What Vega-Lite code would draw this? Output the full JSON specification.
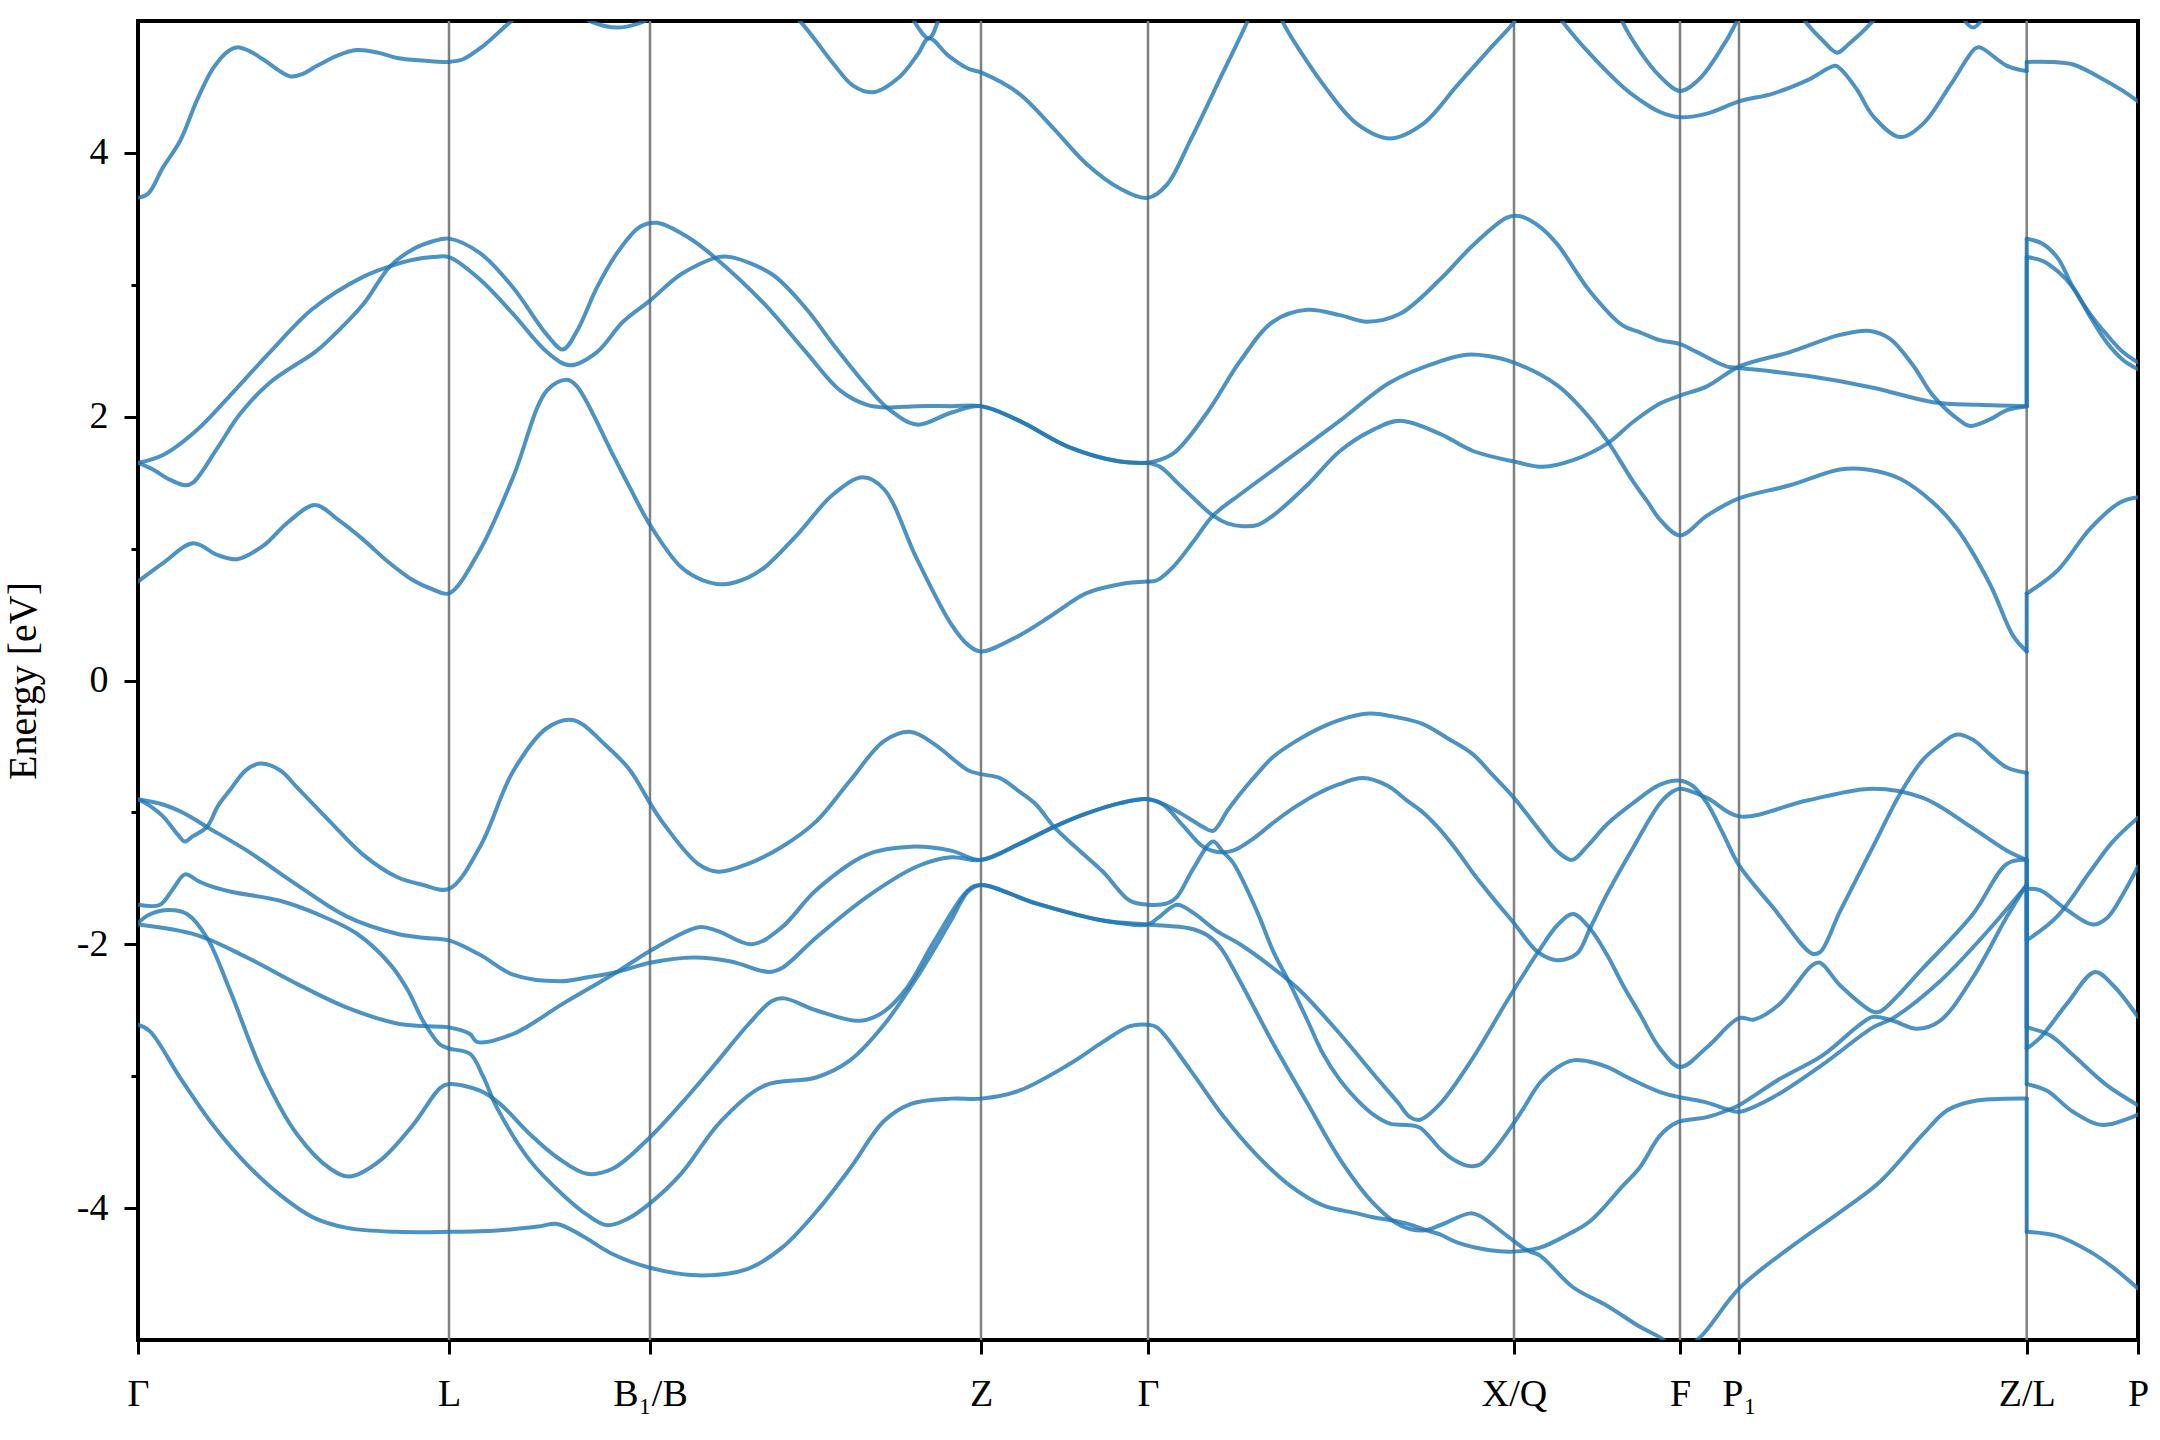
{
"$schema":"https://vega.github.io/schema/vega-lite/v6.json",
"width":2000,"height":1319,
"autosize":{"type":"none"},
"padding":{"left":138,"top":21,"right":22,"bottom":100},
"background":"white",
"config":{"view":{"stroke":"black","strokeWidth":4},"font":"Liberation Serif"},
"datasets":{
"kpts":[{"k":311,"name":"L"},{"k":512,"name":"B1/B"},{"k":843,"name":"Z"},{"k":1010,"name":"Γ"},{"k":1376,"name":"X/Q"},{"k":1542,"name":"F"},{"k":1601,"name":"P1"},{"k":1888.7,"name":"Z/L"}],
"bands":[
{"b":"b1","k":0,"e":0.75},{"b":"b1","k":25,"e":0.89},{"b":"b1","k":55,"e":1.04},{"b":"b1","k":80,"e":0.95},{"b":"b1","k":99,"e":0.92},{"b":"b1","k":125,"e":1.02},{"b":"b1","k":150,"e":1.2},{"b":"b1","k":177,"e":1.33},{"b":"b1","k":200,"e":1.22},{"b":"b1","k":225,"e":1.07},{"b":"b1","k":250,"e":0.9},{"b":"b1","k":275,"e":0.76},{"b":"b1","k":295,"e":0.69},{"b":"b1","k":311,"e":0.66},{"b":"b1","k":342,"e":0.99},{"b":"b1","k":375,"e":1.54},{"b":"b1","k":409,"e":2.2},{"b":"b1","k":429,"e":2.28},{"b":"b1","k":439,"e":2.23},{"b":"b1","k":475,"e":1.71},{"b":"b1","k":492,"e":1.46},{"b":"b1","k":512,"e":1.18},{"b":"b1","k":543,"e":0.86},{"b":"b1","k":565,"e":0.76},{"b":"b1","k":587,"e":0.73},{"b":"b1","k":610,"e":0.78},{"b":"b1","k":627,"e":0.86},{"b":"b1","k":661,"e":1.12},{"b":"b1","k":695,"e":1.41},{"b":"b1","k":725,"e":1.54},{"b":"b1","k":746,"e":1.45},{"b":"b1","k":779,"e":0.92},{"b":"b1","k":813,"e":0.43},{"b":"b1","k":830,"e":0.27},{"b":"b1","k":843,"e":0.22},{"b":"b1","k":881,"e":0.34},{"b":"b1","k":915,"e":0.5},{"b":"b1","k":948,"e":0.66},{"b":"b1","k":982,"e":0.73},{"b":"b1","k":1010,"e":0.75},
{"b":"b2","k":1010,"e":0.75},{"b":"b2","k":1019,"e":0.76},{"b":"b2","k":1035,"e":0.86},{"b":"b2","k":1055,"e":1.05},{"b":"b2","k":1075,"e":1.25},{"b":"b2","k":1102,"e":1.41},{"b":"b2","k":1152,"e":1.69},{"b":"b2","k":1202,"e":1.97},{"b":"b2","k":1252,"e":2.26},{"b":"b2","k":1302,"e":2.42},{"b":"b2","k":1329,"e":2.47},{"b":"b2","k":1350,"e":2.46},{"b":"b2","k":1376,"e":2.41},{"b":"b2","k":1419,"e":2.24},{"b":"b2","k":1445,"e":2.05},{"b":"b2","k":1469,"e":1.82},{"b":"b2","k":1495,"e":1.51},{"b":"b2","k":1510,"e":1.35},{"b":"b2","k":1522,"e":1.22},{"b":"b2","k":1542,"e":1.1},{"b":"b2","k":1569,"e":1.25},{"b":"b2","k":1601,"e":1.38},{"b":"b2","k":1652,"e":1.48},{"b":"b2","k":1702,"e":1.6},{"b":"b2","k":1729,"e":1.6},{"b":"b2","k":1762,"e":1.53},{"b":"b2","k":1795,"e":1.35},{"b":"b2","k":1819,"e":1.15},{"b":"b2","k":1852,"e":0.73},{"b":"b2","k":1875,"e":0.34},{"b":"b2","k":1888.7,"e":0.22},
{"b":"b2J","k":1888.7,"e":0.22},{"b":"b2J","k":1888.7,"e":0.66},
{"b":"b2L","k":1888.7,"e":0.66},{"b":"b2L","k":1919,"e":0.83},{"b":"b2L","k":1952,"e":1.15},{"b":"b2L","k":1982,"e":1.35},{"b":"b2L","k":2000,"e":1.39},
{"b":"b3","k":1010,"e":1.65},{"b":"b3","k":1022,"e":1.62},{"b":"b3","k":1042,"e":1.48},{"b":"b3","k":1060,"e":1.35},{"b":"b3","k":1075,"e":1.25},{"b":"b3","k":1090,"e":1.19},{"b":"b3","k":1105,"e":1.17},{"b":"b3","k":1120,"e":1.18},{"b":"b3","k":1135,"e":1.25},{"b":"b3","k":1169,"e":1.48},{"b":"b3","k":1202,"e":1.74},{"b":"b3","k":1235,"e":1.9},{"b":"b3","k":1262,"e":1.97},{"b":"b3","k":1302,"e":1.87},{"b":"b3","k":1335,"e":1.74},{"b":"b3","k":1376,"e":1.66},{"b":"b3","k":1405,"e":1.62},{"b":"b3","k":1435,"e":1.67},{"b":"b3","k":1470,"e":1.8},{"b":"b3","k":1495,"e":1.96},{"b":"b3","k":1522,"e":2.1},{"b":"b3","k":1542,"e":2.16},{"b":"b3","k":1569,"e":2.23},{"b":"b3","k":1601,"e":2.38},{"b":"b3","k":1652,"e":2.49},{"b":"b3","k":1702,"e":2.62},{"b":"b3","k":1732,"e":2.65},{"b":"b3","k":1752,"e":2.59},{"b":"b3","k":1775,"e":2.39},{"b":"b3","k":1795,"e":2.16},{"b":"b3","k":1822,"e":1.97},{"b":"b3","k":1832,"e":1.93},{"b":"b3","k":1852,"e":1.98},{"b":"b3","k":1869,"e":2.05},{"b":"b3","k":1888.7,"e":2.08},
{"b":"b3J","k":1888.7,"e":2.08},{"b":"b3J","k":1888.7,"e":3.21},
{"b":"b3L","k":1888.7,"e":3.21},{"b":"b3L","k":1905,"e":3.18},{"b":"b3L","k":1920,"e":3.1},{"b":"b3L","k":1935,"e":2.98},{"b":"b3L","k":1952,"e":2.76},{"b":"b3L","k":1969,"e":2.56},{"b":"b3L","k":1985,"e":2.43},{"b":"b3L","k":2000,"e":2.36},
{"b":"b4","k":1010,"e":1.65},{"b":"b4","k":1035,"e":1.72},{"b":"b4","k":1069,"e":2.03},{"b":"b4","k":1102,"e":2.42},{"b":"b4","k":1135,"e":2.72},{"b":"b4","k":1169,"e":2.81},{"b":"b4","k":1202,"e":2.77},{"b":"b4","k":1229,"e":2.72},{"b":"b4","k":1262,"e":2.78},{"b":"b4","k":1302,"e":3.04},{"b":"b4","k":1335,"e":3.3},{"b":"b4","k":1369,"e":3.51},{"b":"b4","k":1382,"e":3.52},{"b":"b4","k":1400,"e":3.45},{"b":"b4","k":1419,"e":3.31},{"b":"b4","k":1452,"e":2.95},{"b":"b4","k":1485,"e":2.69},{"b":"b4","k":1502,"e":2.64},{"b":"b4","k":1522,"e":2.58},{"b":"b4","k":1542,"e":2.55},{"b":"b4","k":1559,"e":2.49},{"b":"b4","k":1589,"e":2.38},{"b":"b4","k":1601,"e":2.37},{"b":"b4","k":1669,"e":2.31},{"b":"b4","k":1735,"e":2.22},{"b":"b4","k":1795,"e":2.11},{"b":"b4","k":1840,"e":2.09},{"b":"b4","k":1888.7,"e":2.08},
{"b":"b4J","k":1888.7,"e":2.08},{"b":"b4J","k":1888.7,"e":3.35},
{"b":"b4L","k":1888.7,"e":3.35},{"b":"b4L","k":1905,"e":3.31},{"b":"b4L","k":1920,"e":3.2},{"b":"b4L","k":1935,"e":2.98},{"b":"b4L","k":1952,"e":2.78},{"b":"b4L","k":1969,"e":2.62},{"b":"b4L","k":1985,"e":2.49},{"b":"b4L","k":2000,"e":2.41},
{"b":"b5","k":0,"e":1.65},{"b":"b5","k":15,"e":1.6},{"b":"b5","k":30,"e":1.53},{"b":"b5","k":47,"e":1.48},{"b":"b5","k":55,"e":1.5},{"b":"b5","k":80,"e":1.77},{"b":"b5","k":102,"e":2.02},{"b":"b5","k":132,"e":2.26},{"b":"b5","k":177,"e":2.49},{"b":"b5","k":192,"e":2.59},{"b":"b5","k":225,"e":2.85},{"b":"b5","k":252,"e":3.14},{"b":"b5","k":275,"e":3.27},{"b":"b5","k":295,"e":3.33},{"b":"b5","k":311,"e":3.35},{"b":"b5","k":342,"e":3.24},{"b":"b5","k":375,"e":2.98},{"b":"b5","k":409,"e":2.62},{"b":"b5","k":425,"e":2.51},{"b":"b5","k":439,"e":2.65},{"b":"b5","k":459,"e":2.98},{"b":"b5","k":479,"e":3.24},{"b":"b5","k":502,"e":3.44},{"b":"b5","k":519,"e":3.47},{"b":"b5","k":550,"e":3.36},{"b":"b5","k":578,"e":3.2},{"b":"b5","k":627,"e":2.85},{"b":"b5","k":668,"e":2.49},{"b":"b5","k":702,"e":2.2},{"b":"b5","k":729,"e":2.09},{"b":"b5","k":749,"e":2.07},{"b":"b5","k":779,"e":2.08},{"b":"b5","k":813,"e":2.08},{"b":"b5","k":843,"e":2.08},{"b":"b5","k":881,"e":1.97},{"b":"b5","k":931,"e":1.77},{"b":"b5","k":982,"e":1.66},{"b":"b5","k":1010,"e":1.65},
{"b":"b6","k":0,"e":1.65},{"b":"b6","k":25,"e":1.71},{"b":"b6","k":59,"e":1.9},{"b":"b6","k":92,"e":2.16},{"b":"b6","k":132,"e":2.49},{"b":"b6","k":175,"e":2.82},{"b":"b6","k":225,"e":3.06},{"b":"b6","k":252,"e":3.14},{"b":"b6","k":275,"e":3.19},{"b":"b6","k":295,"e":3.21},{"b":"b6","k":311,"e":3.21},{"b":"b6","k":342,"e":3.04},{"b":"b6","k":375,"e":2.78},{"b":"b6","k":409,"e":2.49},{"b":"b6","k":432,"e":2.39},{"b":"b6","k":459,"e":2.49},{"b":"b6","k":485,"e":2.72},{"b":"b6","k":512,"e":2.88},{"b":"b6","k":543,"e":3.08},{"b":"b6","k":580,"e":3.21},{"b":"b6","k":593,"e":3.21},{"b":"b6","k":634,"e":3.08},{"b":"b6","k":668,"e":2.82},{"b":"b6","k":695,"e":2.55},{"b":"b6","k":729,"e":2.23},{"b":"b6","k":752,"e":2.05},{"b":"b6","k":779,"e":1.94},{"b":"b6","k":813,"e":2.03},{"b":"b6","k":843,"e":2.08},{"b":"b6","k":881,"e":1.97},{"b":"b6","k":931,"e":1.77},{"b":"b6","k":982,"e":1.66},{"b":"b6","k":1010,"e":1.65},
{"b":"b7","k":0,"e":3.66},{"b":"b7","k":10,"e":3.69},{"b":"b7","k":25,"e":3.89},{"b":"b7","k":42,"e":4.09},{"b":"b7","k":59,"e":4.4},{"b":"b7","k":75,"e":4.64},{"b":"b7","k":90,"e":4.77},{"b":"b7","k":99,"e":4.8},{"b":"b7","k":112,"e":4.77},{"b":"b7","k":125,"e":4.71},{"b":"b7","k":152,"e":4.58},{"b":"b7","k":165,"e":4.6},{"b":"b7","k":179,"e":4.66},{"b":"b7","k":200,"e":4.74},{"b":"b7","k":219,"e":4.78},{"b":"b7","k":240,"e":4.76},{"b":"b7","k":259,"e":4.72},{"b":"b7","k":285,"e":4.7},{"b":"b7","k":311,"e":4.69},{"b":"b7","k":325,"e":4.71},{"b":"b7","k":345,"e":4.81},{"b":"b7","k":372,"e":4.99},{"b":"b7","k":400,"e":5.15},{"b":"b7","k":430,"e":5.1},{"b":"b7","k":455,"e":4.99},{"b":"b7","k":479,"e":4.95},{"b":"b7","k":500,"e":4.98},{"b":"b7","k":520,"e":5.05},{"b":"b7","k":560,"e":5.2},{"b":"b7","k":600,"e":5.25},{"b":"b7","k":640,"e":5.15},{"b":"b7","k":663,"e":4.99},{"b":"b7","k":695,"e":4.68},{"b":"b7","k":715,"e":4.51},{"b":"b7","k":735,"e":4.46},{"b":"b7","k":762,"e":4.58},{"b":"b7","k":780,"e":4.75},{"b":"b7","k":791,"e":4.87},{"b":"b7","k":810,"e":4.74},{"b":"b7","k":830,"e":4.64},{"b":"b7","k":843,"e":4.61},{"b":"b7","k":881,"e":4.45},{"b":"b7","k":915,"e":4.19},{"b":"b7","k":948,"e":3.92},{"b":"b7","k":982,"e":3.73},{"b":"b7","k":1010,"e":3.66},{"b":"b7","k":1029,"e":3.76},{"b":"b7","k":1052,"e":4.09},{"b":"b7","k":1085,"e":4.61},{"b":"b7","k":1109,"e":4.99},{"b":"b7","k":1120,"e":5.2},{"b":"b7","k":1130,"e":5.25},{"b":"b7","k":1140,"e":5.1},{"b":"b7","k":1145,"e":4.99},{"b":"b7","k":1189,"e":4.48},{"b":"b7","k":1219,"e":4.22},{"b":"b7","k":1252,"e":4.11},{"b":"b7","k":1285,"e":4.22},{"b":"b7","k":1319,"e":4.51},{"b":"b7","k":1352,"e":4.79},{"b":"b7","k":1376,"e":4.99},{"b":"b7","k":1390,"e":5.15},{"b":"b7","k":1405,"e":5.2},{"b":"b7","k":1415,"e":5.1},{"b":"b7","k":1424,"e":5.0},{"b":"b7","k":1452,"e":4.75},{"b":"b7","k":1485,"e":4.5},{"b":"b7","k":1502,"e":4.4},{"b":"b7","k":1522,"e":4.31},{"b":"b7","k":1542,"e":4.27},{"b":"b7","k":1570,"e":4.3},{"b":"b7","k":1601,"e":4.39},{"b":"b7","k":1635,"e":4.45},{"b":"b7","k":1669,"e":4.55},{"b":"b7","k":1697,"e":4.66},{"b":"b7","k":1702,"e":4.64},{"b":"b7","k":1719,"e":4.48},{"b":"b7","k":1735,"e":4.28},{"b":"b7","k":1762,"e":4.12},{"b":"b7","k":1785,"e":4.22},{"b":"b7","k":1812,"e":4.51},{"b":"b7","k":1837,"e":4.79},{"b":"b7","k":1842,"e":4.8},{"b":"b7","k":1869,"e":4.66},{"b":"b7","k":1888.7,"e":4.62},
{"b":"b7J","k":1888.7,"e":4.62},{"b":"b7J","k":1888.7,"e":4.69},
{"b":"b7L","k":1888.7,"e":4.69},{"b":"b7L","k":1912,"e":4.69},{"b":"b7L","k":1935,"e":4.67},{"b":"b7L","k":1960,"e":4.58},{"b":"b7L","k":1985,"e":4.47},{"b":"b7L","k":2000,"e":4.39},
{"b":"b8","k":755,"e":5.4},{"b":"b8","k":776,"e":5.0},{"b":"b8","k":791,"e":4.87},{"b":"b8","k":800,"e":5.0},{"b":"b8","k":815,"e":5.4},
{"b":"b9","k":1470,"e":5.3},{"b":"b9","k":1484,"e":5.0},{"b":"b9","k":1502,"e":4.77},{"b":"b9","k":1522,"e":4.58},{"b":"b9","k":1542,"e":4.47},{"b":"b9","k":1560,"e":4.55},{"b":"b9","k":1580,"e":4.75},{"b":"b9","k":1599,"e":5.0},{"b":"b9","k":1610,"e":5.2},
{"b":"b10","k":1655,"e":5.15},{"b":"b10","k":1667,"e":5.0},{"b":"b10","k":1685,"e":4.85},{"b":"b10","k":1699,"e":4.76},{"b":"b10","k":1710,"e":4.82},{"b":"b10","k":1735,"e":5.0},{"b":"b10","k":1750,"e":5.15},
{"b":"b11","k":1815,"e":5.15},{"b":"b11","k":1835,"e":4.95},{"b":"b11","k":1855,"e":5.15},
{"b":"b12","k":0,"e":-0.9},{"b":"b12","k":12,"e":-0.95},{"b":"b12","k":25,"e":-1.03},{"b":"b12","k":40,"e":-1.17},{"b":"b12","k":47,"e":-1.22},{"b":"b12","k":55,"e":-1.18},{"b":"b12","k":69,"e":-1.11},{"b":"b12","k":80,"e":-0.95},{"b":"b12","k":92,"e":-0.83},{"b":"b12","k":108,"e":-0.68},{"b":"b12","k":122,"e":-0.63},{"b":"b12","k":142,"e":-0.68},{"b":"b12","k":159,"e":-0.81},{"b":"b12","k":192,"e":-1.07},{"b":"b12","k":225,"e":-1.32},{"b":"b12","k":259,"e":-1.49},{"b":"b12","k":285,"e":-1.55},{"b":"b12","k":311,"e":-1.58},{"b":"b12","k":342,"e":-1.26},{"b":"b12","k":375,"e":-0.69},{"b":"b12","k":409,"e":-0.36},{"b":"b12","k":435,"e":-0.3},{"b":"b12","k":469,"e":-0.5},{"b":"b12","k":492,"e":-0.68},{"b":"b12","k":512,"e":-0.93},{"b":"b12","k":526,"e":-1.09},{"b":"b12","k":560,"e":-1.39},{"b":"b12","k":580,"e":-1.45},{"b":"b12","k":610,"e":-1.39},{"b":"b12","k":644,"e":-1.26},{"b":"b12","k":678,"e":-1.07},{"b":"b12","k":712,"e":-0.76},{"b":"b12","k":746,"e":-0.46},{"b":"b12","k":773,"e":-0.39},{"b":"b12","k":796,"e":-0.48},{"b":"b12","k":830,"e":-0.68},{"b":"b12","k":843,"e":-0.71},{"b":"b12","k":862,"e":-0.74},{"b":"b12","k":881,"e":-0.84},{"b":"b12","k":898,"e":-0.94},{"b":"b12","k":916,"e":-1.11},{"b":"b12","k":940,"e":-1.28},{"b":"b12","k":965,"e":-1.45},{"b":"b12","k":992,"e":-1.67},{"b":"b12","k":1010,"e":-1.7},{"b":"b12","k":1029,"e":-1.69},{"b":"b12","k":1039,"e":-1.64},{"b":"b12","k":1055,"e":-1.43},{"b":"b12","k":1075,"e":-1.22},{"b":"b12","k":1085,"e":-1.3},{"b":"b12","k":1095,"e":-1.38},{"b":"b12","k":1119,"e":-1.75},{"b":"b12","k":1135,"e":-2.05},{"b":"b12","k":1152,"e":-2.3},{"b":"b12","k":1169,"e":-2.57},{"b":"b12","k":1185,"e":-2.83},{"b":"b12","k":1202,"e":-3.03},{"b":"b12","k":1219,"e":-3.18},{"b":"b12","k":1235,"e":-3.29},{"b":"b12","k":1252,"e":-3.36},{"b":"b12","k":1269,"e":-3.37},{"b":"b12","k":1282,"e":-3.39},{"b":"b12","k":1302,"e":-3.55},{"b":"b12","k":1315,"e":-3.63},{"b":"b12","k":1330,"e":-3.68},{"b":"b12","k":1342,"e":-3.67},{"b":"b12","k":1355,"e":-3.57},{"b":"b12","k":1369,"e":-3.43},{"b":"b12","k":1385,"e":-3.25},{"b":"b12","k":1402,"e":-3.05},{"b":"b12","k":1420,"e":-2.93},{"b":"b12","k":1435,"e":-2.88},{"b":"b12","k":1452,"e":-2.89},{"b":"b12","k":1469,"e":-2.93},{"b":"b12","k":1495,"e":-3.03},{"b":"b12","k":1522,"e":-3.12},{"b":"b12","k":1542,"e":-3.16},{"b":"b12","k":1569,"e":-3.2},{"b":"b12","k":1589,"e":-3.25},{"b":"b12","k":1601,"e":-3.27},{"b":"b12","k":1635,"e":-3.16},{"b":"b12","k":1685,"e":-2.91},{"b":"b12","k":1735,"e":-2.63},{"b":"b12","k":1755,"e":-2.56},{"b":"b12","k":1802,"e":-2.28},{"b":"b12","k":1852,"e":-1.88},{"b":"b12","k":1888.7,"e":-1.55},
{"b":"b12J","k":1888.7,"e":-1.55},{"b":"b12J","k":1888.7,"e":-3.06},
{"b":"b12L","k":1888.7,"e":-3.06},{"b":"b12L","k":1909,"e":-3.11},{"b":"b12L","k":1935,"e":-3.27},{"b":"b12L","k":1965,"e":-3.37},{"b":"b12L","k":2000,"e":-3.29},
{"b":"b13","k":0,"e":-0.9},{"b":"b13","k":25,"e":-0.94},{"b":"b13","k":47,"e":-1.01},{"b":"b13","k":69,"e":-1.11},{"b":"b13","k":109,"e":-1.29},{"b":"b13","k":159,"e":-1.55},{"b":"b13","k":209,"e":-1.79},{"b":"b13","k":259,"e":-1.92},{"b":"b13","k":285,"e":-1.95},{"b":"b13","k":311,"e":-1.97},{"b":"b13","k":342,"e":-2.08},{"b":"b13","k":375,"e":-2.23},{"b":"b13","k":422,"e":-2.28},{"b":"b13","k":450,"e":-2.25},{"b":"b13","k":479,"e":-2.21},{"b":"b13","k":512,"e":-2.14},{"b":"b13","k":556,"e":-2.1},{"b":"b13","k":593,"e":-2.13},{"b":"b13","k":631,"e":-2.21},{"b":"b13","k":644,"e":-2.18},{"b":"b13","k":678,"e":-1.95},{"b":"b13","k":729,"e":-1.64},{"b":"b13","k":779,"e":-1.41},{"b":"b13","k":813,"e":-1.34},{"b":"b13","k":843,"e":-1.36},{"b":"b13","k":881,"e":-1.24},{"b":"b13","k":916,"e":-1.11},{"b":"b13","k":948,"e":-1.01},{"b":"b13","k":982,"e":-0.93},{"b":"b13","k":1010,"e":-0.9},{"b":"b13","k":1029,"e":-0.95},{"b":"b13","k":1050,"e":-1.04},{"b":"b13","k":1065,"e":-1.11},{"b":"b13","k":1075,"e":-1.14},{"b":"b13","k":1090,"e":-0.98},{"b":"b13","k":1102,"e":-0.86},{"b":"b13","k":1120,"e":-0.7},{"b":"b13","k":1135,"e":-0.58},{"b":"b13","k":1160,"e":-0.45},{"b":"b13","k":1185,"e":-0.35},{"b":"b13","k":1210,"e":-0.28},{"b":"b13","k":1232,"e":-0.25},{"b":"b13","k":1260,"e":-0.28},{"b":"b13","k":1285,"e":-0.33},{"b":"b13","k":1310,"e":-0.44},{"b":"b13","k":1335,"e":-0.56},{"b":"b13","k":1355,"e":-0.72},{"b":"b13","k":1376,"e":-0.89},{"b":"b13","k":1402,"e":-1.14},{"b":"b13","k":1420,"e":-1.3},{"b":"b13","k":1434,"e":-1.36},{"b":"b13","k":1450,"e":-1.25},{"b":"b13","k":1469,"e":-1.09},{"b":"b13","k":1495,"e":-0.93},{"b":"b13","k":1522,"e":-0.79},{"b":"b13","k":1542,"e":-0.76},{"b":"b13","k":1555,"e":-0.8},{"b":"b13","k":1569,"e":-0.93},{"b":"b13","k":1585,"e":-1.16},{"b":"b13","k":1601,"e":-1.4},{"b":"b13","k":1635,"e":-1.72},{"b":"b13","k":1674,"e":-2.07},{"b":"b13","k":1682,"e":-2.06},{"b":"b13","k":1702,"e":-1.75},{"b":"b13","k":1735,"e":-1.26},{"b":"b13","k":1762,"e":-0.86},{"b":"b13","k":1785,"e":-0.6},{"b":"b13","k":1800,"e":-0.5},{"b":"b13","k":1819,"e":-0.41},{"b":"b13","k":1835,"e":-0.45},{"b":"b13","k":1852,"e":-0.56},{"b":"b13","k":1869,"e":-0.66},{"b":"b13","k":1888.7,"e":-0.7},
{"b":"b13J","k":1888.7,"e":-0.7},{"b":"b13J","k":1888.7,"e":-1.58},
{"b":"b13L","k":1888.7,"e":-1.58},{"b":"b13L","k":1902,"e":-1.59},{"b":"b13L","k":1929,"e":-1.74},{"b":"b13L","k":1955,"e":-1.85},{"b":"b13L","k":1969,"e":-1.8},{"b":"b13L","k":1985,"e":-1.62},{"b":"b13L","k":2000,"e":-1.41},
{"b":"b14","k":0,"e":-1.85},{"b":"b14","k":59,"e":-1.93},{"b":"b14","k":109,"e":-2.1},{"b":"b14","k":159,"e":-2.3},{"b":"b14","k":209,"e":-2.48},{"b":"b14","k":259,"e":-2.6},{"b":"b14","k":285,"e":-2.62},{"b":"b14","k":311,"e":-2.63},{"b":"b14","k":332,"e":-2.68},{"b":"b14","k":339,"e":-2.74},{"b":"b14","k":375,"e":-2.68},{"b":"b14","k":425,"e":-2.45},{"b":"b14","k":479,"e":-2.21},{"b":"b14","k":512,"e":-2.05},{"b":"b14","k":561,"e":-1.87},{"b":"b14","k":580,"e":-1.9},{"b":"b14","k":614,"e":-2.0},{"b":"b14","k":644,"e":-1.87},{"b":"b14","k":678,"e":-1.59},{"b":"b14","k":729,"e":-1.32},{"b":"b14","k":773,"e":-1.26},{"b":"b14","k":813,"e":-1.29},{"b":"b14","k":843,"e":-1.36},{"b":"b14","k":881,"e":-1.24},{"b":"b14","k":916,"e":-1.11},{"b":"b14","k":948,"e":-1.01},{"b":"b14","k":982,"e":-0.93},{"b":"b14","k":1010,"e":-0.9},{"b":"b14","k":1025,"e":-0.94},{"b":"b14","k":1045,"e":-1.1},{"b":"b14","k":1065,"e":-1.26},{"b":"b14","k":1079,"e":-1.3},{"b":"b14","k":1095,"e":-1.29},{"b":"b14","k":1115,"e":-1.2},{"b":"b14","k":1135,"e":-1.08},{"b":"b14","k":1155,"e":-0.97},{"b":"b14","k":1179,"e":-0.86},{"b":"b14","k":1200,"e":-0.79},{"b":"b14","k":1225,"e":-0.74},{"b":"b14","k":1250,"e":-0.8},{"b":"b14","k":1269,"e":-0.91},{"b":"b14","k":1285,"e":-1.0},{"b":"b14","k":1302,"e":-1.13},{"b":"b14","k":1320,"e":-1.3},{"b":"b14","k":1335,"e":-1.46},{"b":"b14","k":1355,"e":-1.65},{"b":"b14","k":1376,"e":-1.84},{"b":"b14","k":1400,"e":-2.06},{"b":"b14","k":1419,"e":-2.12},{"b":"b14","k":1439,"e":-2.07},{"b":"b14","k":1452,"e":-1.88},{"b":"b14","k":1469,"e":-1.62},{"b":"b14","k":1495,"e":-1.27},{"b":"b14","k":1522,"e":-0.93},{"b":"b14","k":1535,"e":-0.84},{"b":"b14","k":1542,"e":-0.82},{"b":"b14","k":1569,"e":-0.89},{"b":"b14","k":1601,"e":-1.03},{"b":"b14","k":1669,"e":-0.91},{"b":"b14","k":1735,"e":-0.82},{"b":"b14","k":1785,"e":-0.89},{"b":"b14","k":1835,"e":-1.12},{"b":"b14","k":1869,"e":-1.29},{"b":"b14","k":1888.7,"e":-1.36},
{"b":"b14J","k":1888.7,"e":-1.36},{"b":"b14J","k":1888.7,"e":-1.97},
{"b":"b14L","k":1888.7,"e":-1.97},{"b":"b14L","k":1919,"e":-1.79},{"b":"b14L","k":1952,"e":-1.45},{"b":"b14L","k":1975,"e":-1.22},{"b":"b14L","k":2000,"e":-1.04},
{"b":"b15","k":0,"e":-1.7},{"b":"b15","k":22,"e":-1.7},{"b":"b15","k":35,"e":-1.58},{"b":"b15","k":47,"e":-1.47},{"b":"b15","k":60,"e":-1.52},{"b":"b15","k":69,"e":-1.55},{"b":"b15","k":92,"e":-1.6},{"b":"b15","k":142,"e":-1.67},{"b":"b15","k":179,"e":-1.77},{"b":"b15","k":219,"e":-1.92},{"b":"b15","k":252,"e":-2.15},{"b":"b15","k":270,"e":-2.35},{"b":"b15","k":285,"e":-2.58},{"b":"b15","k":302,"e":-2.76},{"b":"b15","k":311,"e":-2.79},{"b":"b15","k":332,"e":-2.83},{"b":"b15","k":345,"e":-3.0},{"b":"b15","k":359,"e":-3.24},{"b":"b15","k":392,"e":-3.64},{"b":"b15","k":425,"e":-3.9},{"b":"b15","k":449,"e":-4.05},{"b":"b15","k":469,"e":-4.13},{"b":"b15","k":490,"e":-4.08},{"b":"b15","k":511,"e":-3.97},{"b":"b15","k":543,"e":-3.74},{"b":"b15","k":583,"e":-3.34},{"b":"b15","k":627,"e":-3.07},{"b":"b15","k":678,"e":-3.01},{"b":"b15","k":712,"e":-2.88},{"b":"b15","k":746,"e":-2.61},{"b":"b15","k":779,"e":-2.25},{"b":"b15","k":813,"e":-1.82},{"b":"b15","k":830,"e":-1.6},{"b":"b15","k":843,"e":-1.55},{"b":"b15","k":898,"e":-1.69},{"b":"b15","k":965,"e":-1.82},{"b":"b15","k":1010,"e":-1.85},{"b":"b15","k":1020,"e":-1.8},{"b":"b15","k":1039,"e":-1.7},{"b":"b15","k":1055,"e":-1.76},{"b":"b15","k":1079,"e":-1.9},{"b":"b15","k":1102,"e":-2.0},{"b":"b15","k":1135,"e":-2.18},{"b":"b15","k":1162,"e":-2.35},{"b":"b15","k":1202,"e":-2.68},{"b":"b15","k":1235,"e":-2.98},{"b":"b15","k":1260,"e":-3.2},{"b":"b15","k":1272,"e":-3.31},{"b":"b15","k":1282,"e":-3.33},{"b":"b15","k":1302,"e":-3.21},{"b":"b15","k":1335,"e":-2.86},{"b":"b15","k":1369,"e":-2.43},{"b":"b15","k":1400,"e":-2.06},{"b":"b15","k":1420,"e":-1.85},{"b":"b15","k":1435,"e":-1.77},{"b":"b15","k":1452,"e":-1.88},{"b":"b15","k":1469,"e":-2.08},{"b":"b15","k":1485,"e":-2.31},{"b":"b15","k":1502,"e":-2.53},{"b":"b15","k":1522,"e":-2.79},{"b":"b15","k":1542,"e":-2.93},{"b":"b15","k":1569,"e":-2.78},{"b":"b15","k":1601,"e":-2.56},{"b":"b15","k":1616,"e":-2.57},{"b":"b15","k":1642,"e":-2.45},{"b":"b15","k":1674,"e":-2.16},{"b":"b15","k":1682,"e":-2.14},{"b":"b15","k":1702,"e":-2.31},{"b":"b15","k":1735,"e":-2.51},{"b":"b15","k":1742,"e":-2.51},{"b":"b15","k":1785,"e":-2.18},{"b":"b15","k":1835,"e":-1.77},{"b":"b15","k":1869,"e":-1.39},{"b":"b15","k":1888.7,"e":-1.36},
{"b":"b15J","k":1888.7,"e":-1.36},{"b":"b15J","k":1888.7,"e":-2.63},
{"b":"b15L","k":1888.7,"e":-2.63},{"b":"b15L","k":1912,"e":-2.69},{"b":"b15L","k":1935,"e":-2.84},{"b":"b15L","k":1969,"e":-3.07},{"b":"b15L","k":2000,"e":-3.22},
{"b":"b16","k":0,"e":-1.84},{"b":"b16","k":10,"e":-1.78},{"b":"b16","k":29,"e":-1.74},{"b":"b16","k":49,"e":-1.77},{"b":"b16","k":69,"e":-1.95},{"b":"b16","k":92,"e":-2.35},{"b":"b16","k":125,"e":-2.98},{"b":"b16","k":159,"e":-3.44},{"b":"b16","k":192,"e":-3.7},{"b":"b16","k":212,"e":-3.76},{"b":"b16","k":242,"e":-3.64},{"b":"b16","k":275,"e":-3.37},{"b":"b16","k":302,"e":-3.09},{"b":"b16","k":311,"e":-3.06},{"b":"b16","k":342,"e":-3.11},{"b":"b16","k":362,"e":-3.21},{"b":"b16","k":392,"e":-3.44},{"b":"b16","k":420,"e":-3.62},{"b":"b16","k":449,"e":-3.74},{"b":"b16","k":475,"e":-3.7},{"b":"b16","k":511,"e":-3.47},{"b":"b16","k":543,"e":-3.21},{"b":"b16","k":577,"e":-2.91},{"b":"b16","k":610,"e":-2.61},{"b":"b16","k":634,"e":-2.43},{"b":"b16","k":646,"e":-2.41},{"b":"b16","k":678,"e":-2.5},{"b":"b16","k":722,"e":-2.58},{"b":"b16","k":746,"e":-2.51},{"b":"b16","k":769,"e":-2.33},{"b":"b16","k":796,"e":-1.98},{"b":"b16","k":830,"e":-1.59},{"b":"b16","k":843,"e":-1.55},{"b":"b16","k":898,"e":-1.69},{"b":"b16","k":965,"e":-1.82},{"b":"b16","k":1010,"e":-1.85},{"b":"b16","k":1052,"e":-1.88},{"b":"b16","k":1069,"e":-1.93},{"b":"b16","k":1082,"e":-2.02},{"b":"b16","k":1102,"e":-2.28},{"b":"b16","k":1135,"e":-2.75},{"b":"b16","k":1169,"e":-3.2},{"b":"b16","k":1202,"e":-3.63},{"b":"b16","k":1235,"e":-3.96},{"b":"b16","k":1262,"e":-4.13},{"b":"b16","k":1285,"e":-4.17},{"b":"b16","k":1302,"e":-4.13},{"b":"b16","k":1332,"e":-4.04},{"b":"b16","k":1342,"e":-4.06},{"b":"b16","k":1369,"e":-4.21},{"b":"b16","k":1389,"e":-4.32},{"b":"b16","k":1402,"e":-4.36},{"b":"b16","k":1435,"e":-4.6},{"b":"b16","k":1469,"e":-4.74},{"b":"b16","k":1502,"e":-4.9},{"b":"b16","k":1522,"e":-4.98},{"b":"b16","k":1542,"e":-5.08},{"b":"b16","k":1562,"e":-4.98},{"b":"b16","k":1601,"e":-4.61},{"b":"b16","k":1652,"e":-4.3},{"b":"b16","k":1702,"e":-4.03},{"b":"b16","k":1742,"e":-3.8},{"b":"b16","k":1785,"e":-3.44},{"b":"b16","k":1809,"e":-3.26},{"b":"b16","k":1835,"e":-3.19},{"b":"b16","k":1888.7,"e":-3.17},
{"b":"b16J","k":1888.7,"e":-3.17},{"b":"b16J","k":1888.7,"e":-4.18},
{"b":"b16L","k":1888.7,"e":-4.18},{"b":"b16L","k":1919,"e":-4.21},{"b":"b16L","k":1952,"e":-4.33},{"b":"b16L","k":1975,"e":-4.45},{"b":"b16L","k":2000,"e":-4.61},
{"b":"b17","k":0,"e":-2.61},{"b":"b17","k":12,"e":-2.66},{"b":"b17","k":42,"e":-3.01},{"b":"b17","k":75,"e":-3.37},{"b":"b17","k":109,"e":-3.67},{"b":"b17","k":142,"e":-3.9},{"b":"b17","k":175,"e":-4.07},{"b":"b17","k":209,"e":-4.15},{"b":"b17","k":259,"e":-4.18},{"b":"b17","k":311,"e":-4.18},{"b":"b17","k":359,"e":-4.17},{"b":"b17","k":400,"e":-4.14},{"b":"b17","k":419,"e":-4.12},{"b":"b17","k":442,"e":-4.2},{"b":"b17","k":475,"e":-4.35},{"b":"b17","k":511,"e":-4.45},{"b":"b17","k":560,"e":-4.51},{"b":"b17","k":610,"e":-4.46},{"b":"b17","k":644,"e":-4.3},{"b":"b17","k":678,"e":-4.03},{"b":"b17","k":712,"e":-3.7},{"b":"b17","k":746,"e":-3.34},{"b":"b17","k":773,"e":-3.21},{"b":"b17","k":813,"e":-3.17},{"b":"b17","k":843,"e":-3.17},{"b":"b17","k":881,"e":-3.11},{"b":"b17","k":931,"e":-2.91},{"b":"b17","k":965,"e":-2.74},{"b":"b17","k":992,"e":-2.62},{"b":"b17","k":1010,"e":-2.61},{"b":"b17","k":1019,"e":-2.63},{"b":"b17","k":1052,"e":-2.95},{"b":"b17","k":1085,"e":-3.3},{"b":"b17","k":1119,"e":-3.6},{"b":"b17","k":1152,"e":-3.83},{"b":"b17","k":1185,"e":-3.98},{"b":"b17","k":1219,"e":-4.04},{"b":"b17","k":1235,"e":-4.07},{"b":"b17","k":1252,"e":-4.09},{"b":"b17","k":1270,"e":-4.12},{"b":"b17","k":1285,"e":-4.16},{"b":"b17","k":1302,"e":-4.2},{"b":"b17","k":1319,"e":-4.26},{"b":"b17","k":1352,"e":-4.32},{"b":"b17","k":1376,"e":-4.33},{"b":"b17","k":1402,"e":-4.3},{"b":"b17","k":1430,"e":-4.2},{"b":"b17","k":1452,"e":-4.1},{"b":"b17","k":1485,"e":-3.83},{"b":"b17","k":1502,"e":-3.69},{"b":"b17","k":1522,"e":-3.45},{"b":"b17","k":1539,"e":-3.35},{"b":"b17","k":1569,"e":-3.31},{"b":"b17","k":1589,"e":-3.26},{"b":"b17","k":1601,"e":-3.22},{"b":"b17","k":1642,"e":-3.02},{"b":"b17","k":1685,"e":-2.84},{"b":"b17","k":1720,"e":-2.62},{"b":"b17","k":1735,"e":-2.55},{"b":"b17","k":1755,"e":-2.58},{"b":"b17","k":1779,"e":-2.64},{"b":"b17","k":1802,"e":-2.58},{"b":"b17","k":1835,"e":-2.25},{"b":"b17","k":1869,"e":-1.79},{"b":"b17","k":1888.7,"e":-1.55},
{"b":"b17J","k":1888.7,"e":-1.55},{"b":"b17J","k":1888.7,"e":-2.79},
{"b":"b17L","k":1888.7,"e":-2.79},{"b":"b17L","k":1902,"e":-2.71},{"b":"b17L","k":1929,"e":-2.45},{"b":"b17L","k":1957,"e":-2.21},{"b":"b17L","k":1975,"e":-2.31},{"b":"b17L","k":2000,"e":-2.55}
]},
"layer":[
{"data":{"name":"kpts"},
 "mark":{"type":"rule","color":"#808080","strokeWidth":2.5},
 "encoding":{"x":{"field":"k","type":"quantitative","scale":{"domain":[0,2000],"nice":false,"zero":false},
   "axis":{"values":[0,311,512,843,1010,1376,1542,1601,1888.7,2000],
    "labelExpr":"datum.value < 100 ? 'Γ' : datum.value < 400 ? 'L' : datum.value < 600 ? 'B₁/B' : datum.value < 900 ? 'Z' : datum.value < 1100 ? 'Γ' : datum.value < 1450 ? 'X/Q' : datum.value < 1570 ? 'F' : datum.value < 1700 ? 'P₁' : datum.value < 1950 ? 'Z/L' : 'P'",
    "title":null,"grid":false,"domain":false,"tickColor":"black","tickWidth":3,"tickSize":14,
    "labelFont":"Liberation Serif","labelFontSize":38,"labelColor":"black","labelPadding":21,"labelOverlap":false,"labelFlush":false,"labelBound":false}}}},
{"data":{"name":"bands"},
 "mark":{"type":"line","color":"#1f77b4","strokeWidth":4,"opacity":0.8,"clip":true,"interpolate":"catmull-rom","strokeJoin":"round","strokeCap":"round"},
 "encoding":{
  "x":{"field":"k","type":"quantitative","scale":{"domain":[0,2000],"nice":false,"zero":false},
   "axis":{"values":[0,311,512,843,1010,1376,1542,1601,1888.7,2000],
    "labelExpr":"datum.value < 100 ? 'Γ' : datum.value < 400 ? 'L' : datum.value < 600 ? 'B₁/B' : datum.value < 900 ? 'Z' : datum.value < 1100 ? 'Γ' : datum.value < 1450 ? 'X/Q' : datum.value < 1570 ? 'F' : datum.value < 1700 ? 'P₁' : datum.value < 1950 ? 'Z/L' : 'P'",
    "title":null,"grid":false,"domain":false,"tickColor":"black","tickWidth":3,"tickSize":14,
    "labelFont":"Liberation Serif","labelFontSize":38,"labelColor":"black","labelPadding":21,"labelOverlap":false,"labelFlush":false,"labelBound":false}},
  "y":{"field":"e","type":"quantitative","scale":{"domain":[-5,5],"nice":false,"zero":false},
   "axis":{"values":[-4,-3,-2,-1,0,1,2,3,4],
    "labelExpr":"datum.value % 2 === 0 ? (datum.value < 0 ? '-' + abs(datum.value) : '' + datum.value) : ''",
    "title":"Energy [eV]","titleFont":"Liberation Serif","titleFontSize":40,"titleFontWeight":"normal","titleColor":"black",
    "titleX":-115,"titleY":659.5,"titleAngle":-90,"titleAlign":"center","titleBaseline":"middle",
    "grid":false,"domain":false,"tickColor":"black","tickWidth":3,
    "tickSize":{"condition":{"test":"datum.value % 2 === 0","value":14},"value":7},
    "labelFont":"Liberation Serif","labelFontSize":38,"labelColor":"black","labelPadding":16}},
  "detail":{"field":"b"},
  "order":{"value":null}}}
]
}
